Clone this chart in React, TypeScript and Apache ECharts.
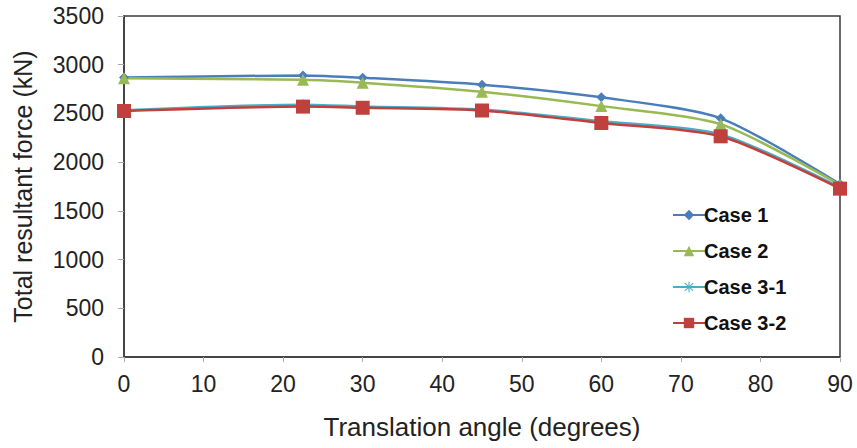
import React, { useEffect, useRef } from "react";
import * as echarts from "echarts";

const angles = [0, 22.5, 30, 45, 60, 75, 90];
const case1 = [2868, 2890, 2866, 2795, 2665, 2450, 1775];
const case2 = [2860, 2845, 2815, 2722, 2575, 2390, 1765];
const case31 = [2532, 2590, 2572, 2540, 2420, 2285, 1742];
const case32 = [2525, 2570, 2558, 2530, 2402, 2265, 1728];
const seriesNames = ["Case 1", "Case 2", "Case 3-1", "Case 3-2"];
const xTicks = { min: 0, max: 90, interval: 10 };
const yTicks = { min: 0, max: 3500, interval: 500 };

const asterisk =
  "path://M9,0H11V8.6L17.4,2.2L18.8,3.6L12.4,10H20V12H12.4L18.8,18.4L17.4,19.8L11,13.4V22H9V13.4L2.6,19.8L1.2,18.4L7.6,12H0V10H7.6L1.2,3.6L2.6,2.2L9,8.6Z";

export default function App() {
  const ref = useRef<HTMLDivElement>(null);
  useEffect(() => {
    if (!ref.current) return;
    const chart = echarts.init(ref.current, undefined, { renderer: "svg" });
    const mk = (name: string, vals: number[], color: string, symbol: string, size: number) => ({
      name,
      type: "line",
      data: angles.map((a, i) => [a, vals[i]]),
      smooth: 0.25,
      symbol,
      symbolSize: size,
      lineStyle: { color, width: 2.5 },
      itemStyle: { color },
    });
    chart.setOption({
      animation: false,
      textStyle: { fontFamily: "Liberation Sans, Arial, sans-serif" },
      grid: {
        left: 124,
        right: 17,
        top: 16,
        bottom: 91,
        show: true,
        borderColor: "#3a3a3a",
        borderWidth: 1.5,
        backgroundColor: "#fff",
      },
      legend: {
        orient: "vertical",
        left: 667,
        top: 200,
        itemWidth: 32,
        itemHeight: 13,
        itemGap: 16,
        data: seriesNames,
        textStyle: { fontSize: 20, fontWeight: "bold", color: "#111", padding: [0, 0, 0, -6] },
      },
      xAxis: {
        type: "value",
        ...xTicks,
        name: "Translation angle (degrees)",
        nameLocation: "middle",
        nameGap: 57,
        nameTextStyle: { fontSize: 26, color: "#222" },
        axisLine: { show: true, lineStyle: { color: "#3a3a3a", width: 1.5 } },
        axisTick: { show: true, length: 5, lineStyle: { color: "#aaa" } },
        axisLabel: { fontSize: 23, color: "#222", margin: 15, formatter: (v: number) => String(v) },
        splitLine: { show: false },
      },
      yAxis: {
        type: "value",
        ...yTicks,
        name: "Total resultant force (kN)",
        nameLocation: "middle",
        nameGap: 89,
        nameTextStyle: { fontSize: 25, color: "#222" },
        axisLine: { show: true, lineStyle: { color: "#3a3a3a", width: 1.5 } },
        axisTick: { show: true, length: 6, lineStyle: { color: "#aaa" } },
        axisLabel: { fontSize: 23, color: "#222", margin: 20, formatter: (v: number) => String(v) },
        splitLine: { show: false },
      },
      series: [
        mk("Case 1", case1, "#4a7ebb", "diamond", 10),
        mk("Case 2", case2, "#98b954", "triangle", 12),
        mk("Case 3-1", case31, "#4bacc6", asterisk, 11),
        mk("Case 3-2", case32, "#c0403d", "rect", 14),
      ],
    });
    return () => chart.dispose();
  }, []);
  return <div ref={ref} style={{ width: 857, height: 448, position: "absolute", left: 0, top: 0 }} />;
}
